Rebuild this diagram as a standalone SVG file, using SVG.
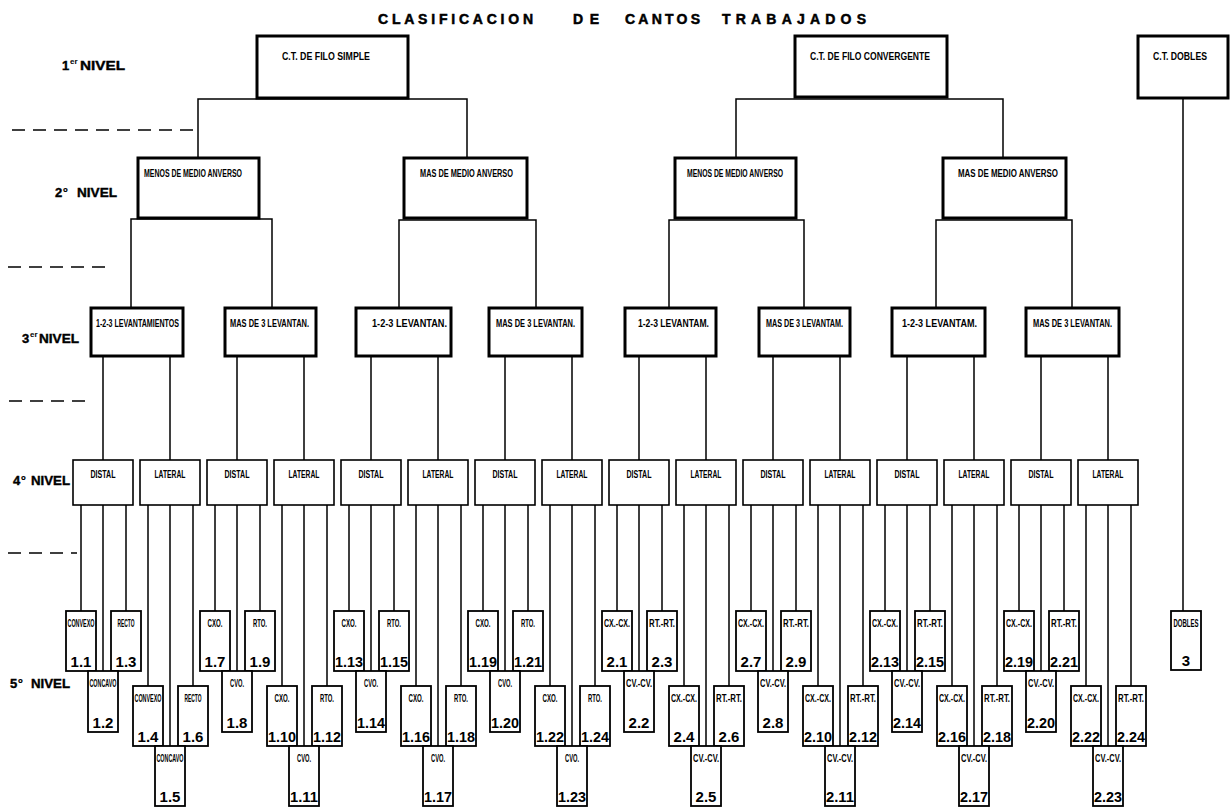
<svg xmlns="http://www.w3.org/2000/svg" width="1231" height="807" viewBox="0 0 1231 807">
<style>
text{font-family:"Liberation Sans",Arial,sans-serif;font-weight:bold;fill:#000}
.bx1{fill:#fff;stroke:#000;stroke-width:3}
.bx4{fill:#fff;stroke:#000;stroke-width:1.6}
.bx5{fill:#fff;stroke:#000;stroke-width:1.8}
.cn{fill:none;stroke:#000;stroke-width:1.5}
.ds{fill:none;stroke:#000;stroke-width:1.5;stroke-dasharray:13 8}
.t1{font-size:11px}
.t2{font-size:10px}
.t3{font-size:11px}
.t4{font-size:11px;text-anchor:middle}
.t5{font-size:10.5px;text-anchor:middle}
.n5{font-size:15px;text-anchor:middle}
.lv{font-size:13px;stroke:#000;stroke-width:0.4}
.sup{font-size:8px}
.ord{font-size:13px}
.ti{font-size:14px;stroke:#000;stroke-width:0.5}
</style>
<rect width="1231" height="807" fill="#fff"/>
<g id="title">
<text class="ti" x="378" y="24" textLength="155" lengthAdjust="spacing">CLASIFICACION</text>
<text class="ti" x="573" y="24" textLength="26" lengthAdjust="spacing">DE</text>
<text class="ti" x="625" y="24" textLength="75" lengthAdjust="spacing">CANTOS</text>
<text class="ti" x="722" y="24" textLength="144" lengthAdjust="spacing">TRABAJADOS</text>
</g>
<g id="level-labels">
<text class="lv" x="62" y="70">1</text><text class="sup" x="70" y="64">er</text><text class="lv" x="80" y="70" textLength="45" lengthAdjust="spacingAndGlyphs">NIVEL</text>
<text class="lv" x="55" y="197">2</text><text class="ord" x="63" y="197">º</text><text class="lv" x="77" y="197" textLength="40" lengthAdjust="spacingAndGlyphs">NIVEL</text>
<text class="lv" x="22" y="343">3</text><text class="sup" x="30" y="337">er</text><text class="lv" x="39" y="343" textLength="40" lengthAdjust="spacingAndGlyphs">NIVEL</text>
<text class="lv" x="13" y="485">4</text><text class="ord" x="21" y="485">º</text><text class="lv" x="31" y="485" textLength="39" lengthAdjust="spacingAndGlyphs">NIVEL</text>
<text class="lv" x="10" y="688">5</text><text class="ord" x="18" y="688">º</text><text class="lv" x="31" y="688" textLength="39" lengthAdjust="spacingAndGlyphs">NIVEL</text>
<path class="ds" d="M12,130 H193 M8,267 H105 M9,401 H85 M8,553 H77"/>
</g>
<g id="connectors">
<path class="cn" d="M198,157 V99 H467 V157 M736,157 V99 H1003 V157 M1183,98 V611"/>
<path class="cn" d="M131,308 V219 H272 V308 M399,308 V220 H536 V308 M669,308 V220 H804 V308 M936,308 V220 H1072 V308"/>
<path class="cn" d="M103,356V460 M170,356V460 M237,356V460 M304,356V460 M371,356V460 M438,356V460 M505,356V460 M572,356V460 M639,356V460 M706,356V460 M773,356V460 M840,356V460 M907,356V460 M974,356V460 M1041,356V460 M1108,356V460"/>
<path class="cn" d="M81,505V611 M126,505V611 M103,505V671
M148,505V686 M193,505V686 M170,505V746
M215,505V611 M260,505V611 M237,505V671
M282,505V686 M327,505V686 M304,505V746
M349,505V611 M394,505V611 M371,505V671
M416,505V686 M461,505V686 M438,505V746
M483,505V611 M528,505V611 M505,505V671
M550,505V686 M595,505V686 M572,505V746
M617,505V611 M662,505V611 M639,505V671
M684,505V686 M729,505V686 M706,505V746
M751,505V611 M796,505V611 M773,505V671
M818,505V686 M863,505V686 M840,505V746
M885,505V611 M930,505V611 M907,505V671
M952,505V686 M997,505V686 M974,505V746
M1019,505V611 M1064,505V611 M1041,505V671
M1086,505V686 M1131,505V686 M1108,505V746"/>
</g>
<g id="n-ct-filo-simple"><rect class="bx1" x="257" y="36" width="151" height="62"/><text class="t1" x="282" y="60" textLength="88" lengthAdjust="spacingAndGlyphs">C.T. DE FILO SIMPLE</text></g>
<g id="n-ct-filo-convergente"><rect class="bx1" x="795" y="36" width="152" height="61"/><text class="t1" x="810" y="60" textLength="120" lengthAdjust="spacingAndGlyphs">C.T. DE FILO CONVERGENTE</text></g>
<g id="n-ct-dobles"><rect class="bx1" x="1138" y="36" width="90" height="62"/><text class="t1" x="1153" y="60" textLength="54" lengthAdjust="spacingAndGlyphs">C.T. DOBLES</text></g>
<g id="n-1-menos"><rect class="bx1" x="138" y="158" width="121" height="60"/><text class="t2" x="144" y="177" textLength="98" lengthAdjust="spacingAndGlyphs">MENOS DE MEDIO ANVERSO</text></g>
<g id="n-1-mas"><rect class="bx1" x="404" y="158" width="123" height="60"/><text class="t2" x="420" y="177" textLength="93" lengthAdjust="spacingAndGlyphs">MAS DE MEDIO ANVERSO</text></g>
<g id="n-2-menos"><rect class="bx1" x="675" y="158" width="121" height="60"/><text class="t2" x="687" y="177" textLength="96" lengthAdjust="spacingAndGlyphs">MENOS DE MEDIO ANVERSO</text></g>
<g id="n-2-mas"><rect class="bx1" x="943" y="158" width="123" height="60"/><text class="t2" x="958" y="177" textLength="100" lengthAdjust="spacingAndGlyphs">MAS DE MEDIO ANVERSO</text></g>
<g id="n-1a-123"><rect class="bx1" x="91" y="308" width="92" height="48"/><text class="t3" x="96" y="327" textLength="83" lengthAdjust="spacingAndGlyphs">1-2-3 LEVANTAMIENTOS</text></g>
<g id="n-1a-mas3"><rect class="bx1" x="225" y="308" width="91" height="48"/><text class="t3" x="230" y="327" textLength="79" lengthAdjust="spacingAndGlyphs">MAS DE 3 LEVANTAN.</text></g>
<g id="n-1b-123"><rect class="bx1" x="356" y="308" width="95" height="48"/><text class="t3" x="372" y="327" textLength="75" lengthAdjust="spacingAndGlyphs">1-2-3  LEVANTAN.</text></g>
<g id="n-1b-mas3"><rect class="bx1" x="489" y="308" width="93" height="48"/><text class="t3" x="496" y="327" textLength="79" lengthAdjust="spacingAndGlyphs">MAS DE 3 LEVANTAN.</text></g>
<g id="n-2a-123"><rect class="bx1" x="625" y="308" width="91" height="48"/><text class="t3" x="638" y="327" textLength="71" lengthAdjust="spacingAndGlyphs">1-2-3  LEVANTAM.</text></g>
<g id="n-2a-mas3"><rect class="bx1" x="759" y="308" width="91" height="48"/><text class="t3" x="766" y="327" textLength="77" lengthAdjust="spacingAndGlyphs">MAS DE 3 LEVANTAM.</text></g>
<g id="n-2b-123"><rect class="bx1" x="892" y="308" width="93" height="48"/><text class="t3" x="902" y="327" textLength="75" lengthAdjust="spacingAndGlyphs">1-2-3  LEVANTAM.</text></g>
<g id="n-2b-mas3"><rect class="bx1" x="1026" y="308" width="93" height="48"/><text class="t3" x="1033" y="327" textLength="79" lengthAdjust="spacingAndGlyphs">MAS DE 3 LEVANTAN.</text></g>
<g id="n4-0"><rect class="bx4" x="73" y="460" width="60" height="45"/><text class="t4" x="103" y="478" textLength="25" lengthAdjust="spacingAndGlyphs">DISTAL</text></g>
<g id="n4-1"><rect class="bx4" x="140" y="460" width="60" height="45"/><text class="t4" x="170" y="478" textLength="31" lengthAdjust="spacingAndGlyphs">LATERAL</text></g>
<g id="n4-2"><rect class="bx4" x="207" y="460" width="60" height="45"/><text class="t4" x="237" y="478" textLength="25" lengthAdjust="spacingAndGlyphs">DISTAL</text></g>
<g id="n4-3"><rect class="bx4" x="274" y="460" width="60" height="45"/><text class="t4" x="304" y="478" textLength="31" lengthAdjust="spacingAndGlyphs">LATERAL</text></g>
<g id="n4-4"><rect class="bx4" x="341" y="460" width="60" height="45"/><text class="t4" x="371" y="478" textLength="25" lengthAdjust="spacingAndGlyphs">DISTAL</text></g>
<g id="n4-5"><rect class="bx4" x="408" y="460" width="60" height="45"/><text class="t4" x="438" y="478" textLength="31" lengthAdjust="spacingAndGlyphs">LATERAL</text></g>
<g id="n4-6"><rect class="bx4" x="475" y="460" width="60" height="45"/><text class="t4" x="505" y="478" textLength="25" lengthAdjust="spacingAndGlyphs">DISTAL</text></g>
<g id="n4-7"><rect class="bx4" x="542" y="460" width="60" height="45"/><text class="t4" x="572" y="478" textLength="31" lengthAdjust="spacingAndGlyphs">LATERAL</text></g>
<g id="n4-8"><rect class="bx4" x="609" y="460" width="60" height="45"/><text class="t4" x="639" y="478" textLength="25" lengthAdjust="spacingAndGlyphs">DISTAL</text></g>
<g id="n4-9"><rect class="bx4" x="676" y="460" width="60" height="45"/><text class="t4" x="706" y="478" textLength="31" lengthAdjust="spacingAndGlyphs">LATERAL</text></g>
<g id="n4-10"><rect class="bx4" x="743" y="460" width="60" height="45"/><text class="t4" x="773" y="478" textLength="25" lengthAdjust="spacingAndGlyphs">DISTAL</text></g>
<g id="n4-11"><rect class="bx4" x="810" y="460" width="60" height="45"/><text class="t4" x="840" y="478" textLength="31" lengthAdjust="spacingAndGlyphs">LATERAL</text></g>
<g id="n4-12"><rect class="bx4" x="877" y="460" width="60" height="45"/><text class="t4" x="907" y="478" textLength="25" lengthAdjust="spacingAndGlyphs">DISTAL</text></g>
<g id="n4-13"><rect class="bx4" x="944" y="460" width="60" height="45"/><text class="t4" x="974" y="478" textLength="31" lengthAdjust="spacingAndGlyphs">LATERAL</text></g>
<g id="n4-14"><rect class="bx4" x="1011" y="460" width="60" height="45"/><text class="t4" x="1041" y="478" textLength="25" lengthAdjust="spacingAndGlyphs">DISTAL</text></g>
<g id="n4-15"><rect class="bx4" x="1078" y="460" width="60" height="45"/><text class="t4" x="1108" y="478" textLength="31" lengthAdjust="spacingAndGlyphs">LATERAL</text></g>

<g id="n-1-1"><rect class="bx5" x="66" y="611" width="30" height="60"/><text class="t5" x="81" y="627" textLength="27" lengthAdjust="spacingAndGlyphs">CONVEXO</text><text class="n5" x="81" y="667">1.1</text></g>
<g id="n-1-3"><rect class="bx5" x="111" y="611" width="30" height="60"/><text class="t5" x="126" y="627" textLength="17" lengthAdjust="spacingAndGlyphs">RECTO</text><text class="n5" x="126" y="667">1.3</text></g>
<g id="n-1-2"><rect class="bx5" x="88" y="671" width="30" height="61"/><text class="t5" x="103" y="687" textLength="27" lengthAdjust="spacingAndGlyphs">CONCAVO</text><text class="n5" x="103" y="728">1.2</text></g>
<g id="n-1-4"><rect class="bx5" x="133" y="686" width="30" height="60"/><text class="t5" x="148" y="702" textLength="27" lengthAdjust="spacingAndGlyphs">CONVEXO</text><text class="n5" x="148" y="742">1.4</text></g>
<g id="n-1-6"><rect class="bx5" x="178" y="686" width="30" height="60"/><text class="t5" x="193" y="702" textLength="17" lengthAdjust="spacingAndGlyphs">RECTO</text><text class="n5" x="193" y="742">1.6</text></g>
<g id="n-1-5"><rect class="bx5" x="155" y="746" width="30" height="60"/><text class="t5" x="170" y="762" textLength="27" lengthAdjust="spacingAndGlyphs">CONCAVO</text><text class="n5" x="170" y="802">1.5</text></g>

<g id="n-1-7"><rect class="bx5" x="200" y="611" width="30" height="60"/><text class="t5" x="215" y="627" textLength="15" lengthAdjust="spacingAndGlyphs">CXO.</text><text class="n5" x="215" y="667">1.7</text></g>
<g id="n-1-9"><rect class="bx5" x="245" y="611" width="30" height="60"/><text class="t5" x="260" y="627" textLength="14" lengthAdjust="spacingAndGlyphs">RTO.</text><text class="n5" x="260" y="667">1.9</text></g>
<g id="n-1-8"><rect class="bx5" x="222" y="671" width="30" height="61"/><text class="t5" x="237" y="687" textLength="14" lengthAdjust="spacingAndGlyphs">CVO.</text><text class="n5" x="237" y="728">1.8</text></g>
<g id="n-1-10"><rect class="bx5" x="267" y="686" width="30" height="60"/><text class="t5" x="282" y="702" textLength="15" lengthAdjust="spacingAndGlyphs">CXO.</text><text class="n5" x="282" y="742" textLength="28" lengthAdjust="spacingAndGlyphs">1.10</text></g>
<g id="n-1-12"><rect class="bx5" x="312" y="686" width="30" height="60"/><text class="t5" x="327" y="702" textLength="14" lengthAdjust="spacingAndGlyphs">RTO.</text><text class="n5" x="327" y="742" textLength="28" lengthAdjust="spacingAndGlyphs">1.12</text></g>
<g id="n-1-11"><rect class="bx5" x="289" y="746" width="30" height="60"/><text class="t5" x="304" y="762" textLength="14" lengthAdjust="spacingAndGlyphs">CVO.</text><text class="n5" x="304" y="802" textLength="28" lengthAdjust="spacingAndGlyphs">1.11</text></g>

<g id="n-1-13"><rect class="bx5" x="334" y="611" width="30" height="60"/><text class="t5" x="349" y="627" textLength="15" lengthAdjust="spacingAndGlyphs">CXO.</text><text class="n5" x="349" y="667" textLength="28" lengthAdjust="spacingAndGlyphs">1.13</text></g>
<g id="n-1-15"><rect class="bx5" x="379" y="611" width="30" height="60"/><text class="t5" x="394" y="627" textLength="14" lengthAdjust="spacingAndGlyphs">RTO.</text><text class="n5" x="394" y="667" textLength="28" lengthAdjust="spacingAndGlyphs">1.15</text></g>
<g id="n-1-14"><rect class="bx5" x="356" y="671" width="30" height="61"/><text class="t5" x="371" y="687" textLength="14" lengthAdjust="spacingAndGlyphs">CVO.</text><text class="n5" x="371" y="728" textLength="28" lengthAdjust="spacingAndGlyphs">1.14</text></g>
<g id="n-1-16"><rect class="bx5" x="401" y="686" width="30" height="60"/><text class="t5" x="416" y="702" textLength="15" lengthAdjust="spacingAndGlyphs">CXO.</text><text class="n5" x="416" y="742" textLength="28" lengthAdjust="spacingAndGlyphs">1.16</text></g>
<g id="n-1-18"><rect class="bx5" x="446" y="686" width="30" height="60"/><text class="t5" x="461" y="702" textLength="14" lengthAdjust="spacingAndGlyphs">RTO.</text><text class="n5" x="461" y="742" textLength="28" lengthAdjust="spacingAndGlyphs">1.18</text></g>
<g id="n-1-17"><rect class="bx5" x="423" y="746" width="30" height="60"/><text class="t5" x="438" y="762" textLength="14" lengthAdjust="spacingAndGlyphs">CVO.</text><text class="n5" x="438" y="802" textLength="28" lengthAdjust="spacingAndGlyphs">1.17</text></g>

<g id="n-1-19"><rect class="bx5" x="468" y="611" width="30" height="60"/><text class="t5" x="483" y="627" textLength="15" lengthAdjust="spacingAndGlyphs">CXO.</text><text class="n5" x="483" y="667" textLength="28" lengthAdjust="spacingAndGlyphs">1.19</text></g>
<g id="n-1-21"><rect class="bx5" x="513" y="611" width="30" height="60"/><text class="t5" x="528" y="627" textLength="14" lengthAdjust="spacingAndGlyphs">RTO.</text><text class="n5" x="528" y="667" textLength="28" lengthAdjust="spacingAndGlyphs">1.21</text></g>
<g id="n-1-20"><rect class="bx5" x="490" y="671" width="30" height="61"/><text class="t5" x="505" y="687" textLength="14" lengthAdjust="spacingAndGlyphs">CVO.</text><text class="n5" x="505" y="728" textLength="28" lengthAdjust="spacingAndGlyphs">1.20</text></g>
<g id="n-1-22"><rect class="bx5" x="535" y="686" width="30" height="60"/><text class="t5" x="550" y="702" textLength="15" lengthAdjust="spacingAndGlyphs">CXO.</text><text class="n5" x="550" y="742" textLength="28" lengthAdjust="spacingAndGlyphs">1.22</text></g>
<g id="n-1-24"><rect class="bx5" x="580" y="686" width="30" height="60"/><text class="t5" x="595" y="702" textLength="14" lengthAdjust="spacingAndGlyphs">RTO.</text><text class="n5" x="595" y="742" textLength="28" lengthAdjust="spacingAndGlyphs">1.24</text></g>
<g id="n-1-23"><rect class="bx5" x="557" y="746" width="30" height="60"/><text class="t5" x="572" y="762" textLength="14" lengthAdjust="spacingAndGlyphs">CVO.</text><text class="n5" x="572" y="802" textLength="28" lengthAdjust="spacingAndGlyphs">1.23</text></g>

<g id="n-2-1"><rect class="bx5" x="602" y="611" width="30" height="60"/><text class="t5" x="617" y="627" textLength="26" lengthAdjust="spacingAndGlyphs">CX.-CX.</text><text class="n5" x="617" y="667">2.1</text></g>
<g id="n-2-3"><rect class="bx5" x="647" y="611" width="30" height="60"/><text class="t5" x="662" y="627" textLength="26" lengthAdjust="spacingAndGlyphs">RT.-RT.</text><text class="n5" x="662" y="667">2.3</text></g>
<g id="n-2-2"><rect class="bx5" x="624" y="671" width="30" height="61"/><text class="t5" x="639" y="687" textLength="26" lengthAdjust="spacingAndGlyphs">CV.-CV.</text><text class="n5" x="639" y="728">2.2</text></g>
<g id="n-2-4"><rect class="bx5" x="669" y="686" width="30" height="60"/><text class="t5" x="684" y="702" textLength="26" lengthAdjust="spacingAndGlyphs">CX.-CX.</text><text class="n5" x="684" y="742">2.4</text></g>
<g id="n-2-6"><rect class="bx5" x="714" y="686" width="30" height="60"/><text class="t5" x="729" y="702" textLength="26" lengthAdjust="spacingAndGlyphs">RT.-RT.</text><text class="n5" x="729" y="742">2.6</text></g>
<g id="n-2-5"><rect class="bx5" x="691" y="746" width="30" height="60"/><text class="t5" x="706" y="762" textLength="26" lengthAdjust="spacingAndGlyphs">CV.-CV.</text><text class="n5" x="706" y="802">2.5</text></g>

<g id="n-2-7"><rect class="bx5" x="736" y="611" width="30" height="60"/><text class="t5" x="751" y="627" textLength="26" lengthAdjust="spacingAndGlyphs">CX.-CX.</text><text class="n5" x="751" y="667">2.7</text></g>
<g id="n-2-9"><rect class="bx5" x="781" y="611" width="30" height="60"/><text class="t5" x="796" y="627" textLength="26" lengthAdjust="spacingAndGlyphs">RT.-RT.</text><text class="n5" x="796" y="667">2.9</text></g>
<g id="n-2-8"><rect class="bx5" x="758" y="671" width="30" height="61"/><text class="t5" x="773" y="687" textLength="26" lengthAdjust="spacingAndGlyphs">CV.-CV.</text><text class="n5" x="773" y="728">2.8</text></g>
<g id="n-2-10"><rect class="bx5" x="803" y="686" width="30" height="60"/><text class="t5" x="818" y="702" textLength="26" lengthAdjust="spacingAndGlyphs">CX.-CX.</text><text class="n5" x="818" y="742" textLength="28" lengthAdjust="spacingAndGlyphs">2.10</text></g>
<g id="n-2-12"><rect class="bx5" x="848" y="686" width="30" height="60"/><text class="t5" x="863" y="702" textLength="26" lengthAdjust="spacingAndGlyphs">RT.-RT.</text><text class="n5" x="863" y="742" textLength="28" lengthAdjust="spacingAndGlyphs">2.12</text></g>
<g id="n-2-11"><rect class="bx5" x="825" y="746" width="30" height="60"/><text class="t5" x="840" y="762" textLength="26" lengthAdjust="spacingAndGlyphs">CV.-CV.</text><text class="n5" x="840" y="802" textLength="28" lengthAdjust="spacingAndGlyphs">2.11</text></g>

<g id="n-2-13"><rect class="bx5" x="870" y="611" width="30" height="60"/><text class="t5" x="885" y="627" textLength="26" lengthAdjust="spacingAndGlyphs">CX.-CX.</text><text class="n5" x="885" y="667" textLength="28" lengthAdjust="spacingAndGlyphs">2.13</text></g>
<g id="n-2-15"><rect class="bx5" x="915" y="611" width="30" height="60"/><text class="t5" x="930" y="627" textLength="26" lengthAdjust="spacingAndGlyphs">RT.-RT.</text><text class="n5" x="930" y="667" textLength="28" lengthAdjust="spacingAndGlyphs">2.15</text></g>
<g id="n-2-14"><rect class="bx5" x="892" y="671" width="30" height="61"/><text class="t5" x="907" y="687" textLength="26" lengthAdjust="spacingAndGlyphs">CV.-CV.</text><text class="n5" x="907" y="728" textLength="28" lengthAdjust="spacingAndGlyphs">2.14</text></g>
<g id="n-2-16"><rect class="bx5" x="937" y="686" width="30" height="60"/><text class="t5" x="952" y="702" textLength="26" lengthAdjust="spacingAndGlyphs">CX.-CX.</text><text class="n5" x="952" y="742" textLength="28" lengthAdjust="spacingAndGlyphs">2.16</text></g>
<g id="n-2-18"><rect class="bx5" x="982" y="686" width="30" height="60"/><text class="t5" x="997" y="702" textLength="26" lengthAdjust="spacingAndGlyphs">RT.-RT.</text><text class="n5" x="997" y="742" textLength="28" lengthAdjust="spacingAndGlyphs">2.18</text></g>
<g id="n-2-17"><rect class="bx5" x="959" y="746" width="30" height="60"/><text class="t5" x="974" y="762" textLength="26" lengthAdjust="spacingAndGlyphs">CV.-CV.</text><text class="n5" x="974" y="802" textLength="28" lengthAdjust="spacingAndGlyphs">2.17</text></g>

<g id="n-2-19"><rect class="bx5" x="1004" y="611" width="30" height="60"/><text class="t5" x="1019" y="627" textLength="26" lengthAdjust="spacingAndGlyphs">CX.-CX.</text><text class="n5" x="1019" y="667" textLength="28" lengthAdjust="spacingAndGlyphs">2.19</text></g>
<g id="n-2-21"><rect class="bx5" x="1049" y="611" width="30" height="60"/><text class="t5" x="1064" y="627" textLength="26" lengthAdjust="spacingAndGlyphs">RT.-RT.</text><text class="n5" x="1064" y="667" textLength="28" lengthAdjust="spacingAndGlyphs">2.21</text></g>
<g id="n-2-20"><rect class="bx5" x="1026" y="671" width="30" height="61"/><text class="t5" x="1041" y="687" textLength="26" lengthAdjust="spacingAndGlyphs">CV.-CV.</text><text class="n5" x="1041" y="728" textLength="28" lengthAdjust="spacingAndGlyphs">2.20</text></g>
<g id="n-2-22"><rect class="bx5" x="1071" y="686" width="30" height="60"/><text class="t5" x="1086" y="702" textLength="26" lengthAdjust="spacingAndGlyphs">CX.-CX.</text><text class="n5" x="1086" y="742" textLength="28" lengthAdjust="spacingAndGlyphs">2.22</text></g>
<g id="n-2-24"><rect class="bx5" x="1116" y="686" width="30" height="60"/><text class="t5" x="1131" y="702" textLength="26" lengthAdjust="spacingAndGlyphs">RT.-RT.</text><text class="n5" x="1131" y="742" textLength="28" lengthAdjust="spacingAndGlyphs">2.24</text></g>
<g id="n-2-23"><rect class="bx5" x="1093" y="746" width="30" height="60"/><text class="t5" x="1108" y="762" textLength="26" lengthAdjust="spacingAndGlyphs">CV.-CV.</text><text class="n5" x="1108" y="802" textLength="28" lengthAdjust="spacingAndGlyphs">2.23</text></g>

<g id="n-3"><rect class="bx5" x="1171" y="611" width="30" height="59"/><text class="t5" x="1186" y="627" textLength="25" lengthAdjust="spacingAndGlyphs">DOBLES</text><text class="n5" x="1186" y="666">3</text></g>
</svg>
